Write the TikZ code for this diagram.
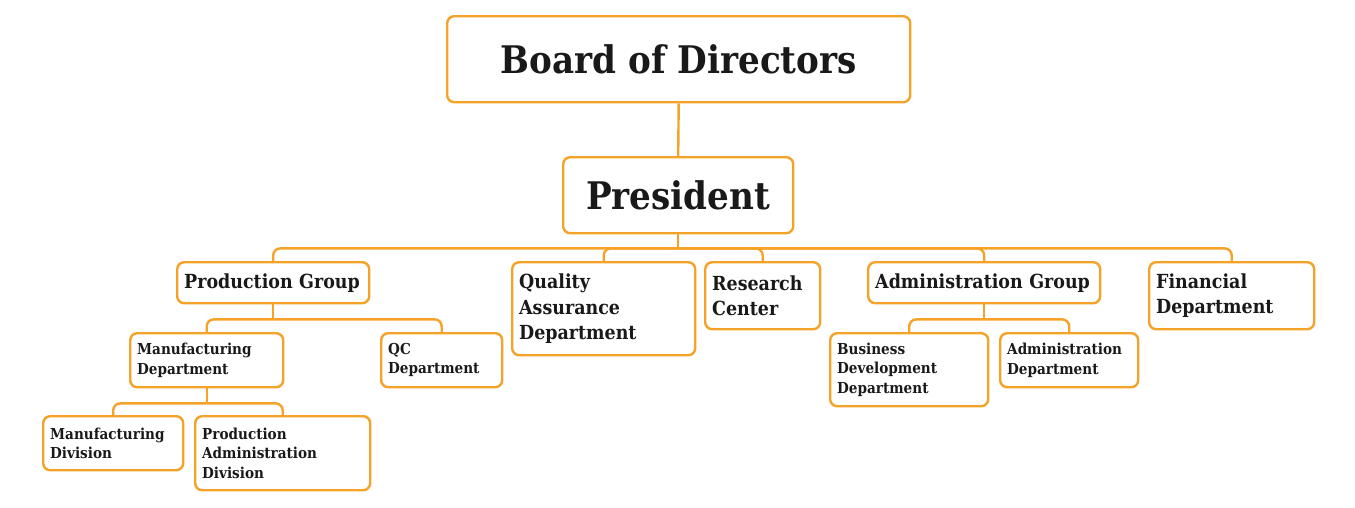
\documentclass[tikz,border=0pt]{standalone}
\usepackage{fontspec}
\IfFontExistsTF{DejaVu Serif Condensed}{\setmainfont{DejaVu Serif Condensed}}{\setmainfont{DejaVu Serif}}
\definecolor{orng}{RGB}{245,163,40}
\definecolor{txt}{RGB}{25,25,25}
\newcommand{\bigf}{\fontsize{38}{44}\selectfont\bfseries}
\newcommand{\midf}{\fontsize{19.4}{25.5}\selectfont\bfseries}
\newcommand{\smlf}{\fontsize{15.1}{19.5}\selectfont\bfseries}
\tikzset{
  box/.style={draw=orng, line width=2.4pt, rounded corners=7pt, fill=white, text=txt,
    anchor=north west, inner xsep=7pt, inner ysep=0pt},
  ltext/.style={align=left},
  ctext/.style={align=center},
  conn/.style={draw=orng, line width=2.4pt, rounded corners=7pt},
}
\begin{document}
\begin{tikzpicture}[x=1pt,y=1pt]
\useasboundingbox (0,0) rectangle (1355,-507);
\fill[white] (0,0) rectangle (1355,-507);
% nodes
\node[box, ctext, minimum width=463pt, minimum height=86pt, font=\bigf] (bod) at (446,-15) {Board of Directors};
\node[box, ctext, minimum width=230pt, minimum height=76pt, font=\bigf] (pres) at (562,-156) {President};
\node[box, ltext, text width=178pt, minimum height=41pt, font=\midf] (pg) at (176,-261) {Production Group};
\node[box, ltext, text width=169pt, minimum height=93pt, font=\midf] (qa) at (511,-261) {Quality\\Assurance\\Department};
\node[box, ltext, text width=101pt, minimum height=67pt, font=\midf] (rc) at (704,-261) {Research\\Center};
\node[box, ltext, text width=218pt, minimum height=41pt, font=\midf] (ag) at (867,-261) {Administration Group};
\node[box, ltext, text width=151pt, minimum height=67pt, font=\midf] (fd) at (1148,-261) {Financial\\Department};
\node[box, ltext, text width=139pt, minimum height=54pt, font=\smlf] (md) at (129,-332) {Manufacturing\\Department};
\node[box, ltext, text width=107pt, minimum height=54pt, font=\smlf] (qc) at (380,-332) {QC\\Department};
\node[box, ltext, text width=126pt, minimum height=54pt, font=\smlf] (mdiv) at (42,-415) {Manufacturing\\Division};
\node[box, ltext, text width=161pt, minimum height=74pt, font=\smlf] (pad) at (194,-415) {Production\\Administration\\Division};
\node[box, ltext, text width=144pt, minimum height=73pt, font=\smlf] (bdd) at (829,-332) {Business\\Development\\Department};
\node[box, ltext, text width=124pt, minimum height=54pt, font=\smlf] (ad) at (999,-332) {Administration\\Department};
% connectors
\draw[conn] (bod.south) -- (pres.north);
\draw[conn] (pres.south) -- ++(0,-14) coordinate (b1);
\foreach \c in {pg,qa,rc,ag,fd} \draw[conn] (b1) -| (\c.north);
\draw[conn] (pg.south) -- ++(0,-15) coordinate (b2);
\foreach \c in {md,qc} \draw[conn] (b2) -| (\c.north);
\draw[conn] (md.south) -- ++(0,-15) coordinate (b3);
\foreach \c in {mdiv,pad} \draw[conn] (b3) -| (\c.north);
\draw[conn] (ag.south) -- ++(0,-15) coordinate (b4);
\foreach \c in {bdd,ad} \draw[conn] (b4) -| (\c.north);
\end{tikzpicture}
\end{document}
